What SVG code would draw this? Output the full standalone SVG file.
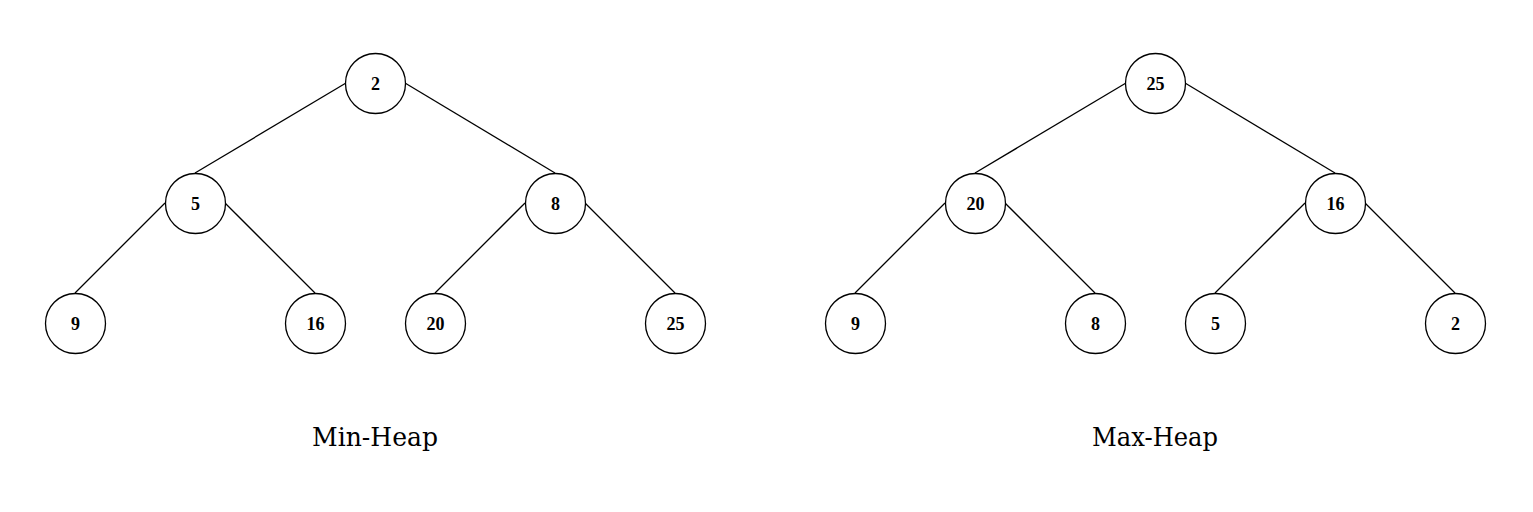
<svg xmlns="http://www.w3.org/2000/svg" width="1533" height="512" viewBox="0 0 1533 512">
<style>
.n circle{fill:#fff;stroke:#000;stroke-width:1.3}
.n text{font-family:"Liberation Serif","DejaVu Serif",serif;font-weight:bold;font-size:18px;text-anchor:middle;fill:#000}
.e line{stroke:#000;stroke-width:1.3}
.t{font-family:"DejaVu Serif","Liberation Serif",serif;font-size:26px;text-anchor:middle;fill:#000}
</style>
<rect width="1533" height="512" fill="#fff"/>
<g class="e">
<line x1="346" y1="83" x2="195" y2="173"/>
<line x1="405" y1="83" x2="555" y2="173"/>
<line x1="165" y1="203" x2="75" y2="293"/>
<line x1="225" y1="203" x2="315" y2="293"/>
<line x1="525" y1="203" x2="435" y2="293"/>
<line x1="585" y1="203" x2="675" y2="293"/>
<line x1="1126" y1="83" x2="975" y2="173"/>
<line x1="1185" y1="83" x2="1335" y2="173"/>
<line x1="945" y1="203" x2="855" y2="293"/>
<line x1="1005" y1="203" x2="1095" y2="293"/>
<line x1="1305" y1="203" x2="1215" y2="293"/>
<line x1="1365" y1="203" x2="1455" y2="293"/>
</g>
<g id="min-2" class="n"><circle cx="375.5" cy="83.5" r="30"/><text x="375.5" y="89.5">2</text></g>
<g id="min-5" class="n"><circle cx="195.5" cy="203.5" r="30"/><text x="195.5" y="209.5">5</text></g>
<g id="min-8" class="n"><circle cx="555.5" cy="203.5" r="30"/><text x="555.5" y="209.5">8</text></g>
<g id="min-9" class="n"><circle cx="75.5" cy="323.5" r="30"/><text x="75.5" y="329.5">9</text></g>
<g id="min-16" class="n"><circle cx="315.5" cy="323.5" r="30"/><text x="315.5" y="329.5">16</text></g>
<g id="min-20" class="n"><circle cx="435.5" cy="323.5" r="30"/><text x="435.5" y="329.5">20</text></g>
<g id="min-25" class="n"><circle cx="675.5" cy="323.5" r="30"/><text x="675.5" y="329.5">25</text></g>
<g id="max-25" class="n"><circle cx="1155.5" cy="83.5" r="30"/><text x="1155.5" y="89.5">25</text></g>
<g id="max-20" class="n"><circle cx="975.5" cy="203.5" r="30"/><text x="975.5" y="209.5">20</text></g>
<g id="max-16" class="n"><circle cx="1335.5" cy="203.5" r="30"/><text x="1335.5" y="209.5">16</text></g>
<g id="max-9" class="n"><circle cx="855.5" cy="323.5" r="30"/><text x="855.5" y="329.5">9</text></g>
<g id="max-8" class="n"><circle cx="1095.5" cy="323.5" r="30"/><text x="1095.5" y="329.5">8</text></g>
<g id="max-5" class="n"><circle cx="1215.5" cy="323.5" r="30"/><text x="1215.5" y="329.5">5</text></g>
<g id="max-2" class="n"><circle cx="1455.5" cy="323.5" r="30"/><text x="1455.5" y="329.5">2</text></g>
<text class="t" x="375" y="446" textLength="126" lengthAdjust="spacingAndGlyphs">Min-Heap</text>
<text class="t" x="1155" y="446" textLength="126" lengthAdjust="spacingAndGlyphs">Max-Heap</text>
</svg>
